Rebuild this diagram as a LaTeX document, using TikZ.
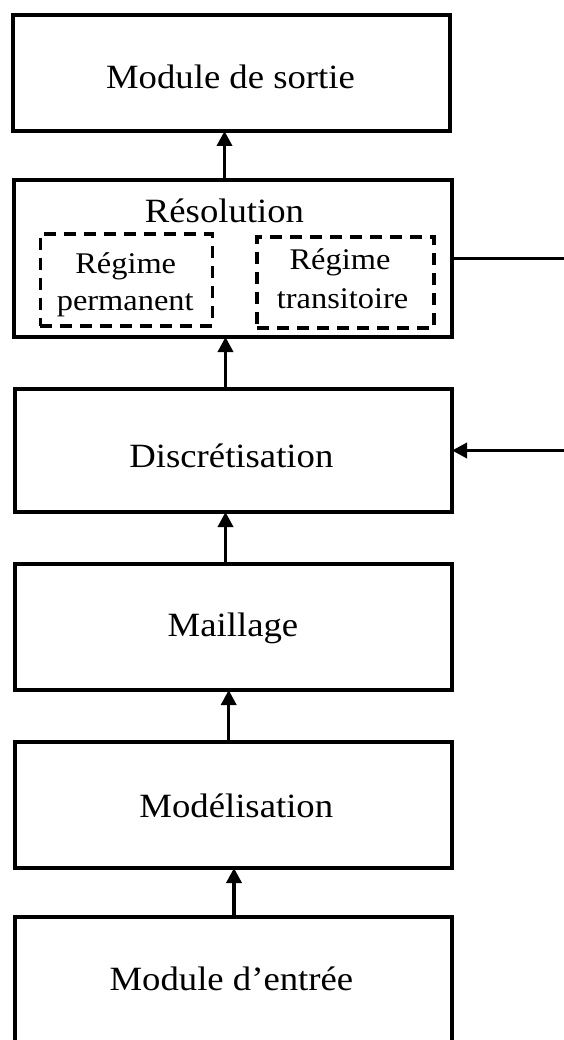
\documentclass[tikz,border=0pt]{standalone}
\usepackage{fontspec}
\setmainfont[FakeStretch=1.08]{Liberation Serif}
\usetikzlibrary{arrows.meta}
\begin{document}
\begin{tikzpicture}[x=1pt,y=-1pt,
  box/.style={draw=black, line width=3.4pt, inner sep=0pt, outer sep=0pt, fill=white},
  dbox/.style={draw=black, line width=3.2pt, dash pattern=on 12pt off 8pt, inner sep=0pt, outer sep=0pt},
  big/.style={anchor=base, inner sep=0pt, font=\fontsize{34}{40}\selectfont},
  small/.style={anchor=base, inner sep=0pt, font=\fontsize{30}{36}\selectfont},
  arr/.style={line width=3.5pt, -{Triangle[length=15pt,width=15pt]}},
  ln/.style={line width=3.4pt}]
\path[use as bounding box] (0,0) rectangle (564,1040);
\clip (0,0) rectangle (564,1040);
% boxes
\node[box, minimum width=437pt, minimum height=116pt] (sortie) at (231.5,73) {};
\node[box, minimum width=438pt, minimum height=157pt] (res) at (233,258.5) {};
\node[box, minimum width=437pt, minimum height=123pt] (disc) at (233.5,450.5) {};
\node[box, minimum width=437pt, minimum height=126pt] (mail) at (233.5,627) {};
\node[box, minimum width=437pt, minimum height=126pt] (model) at (233.5,805) {};
\node[box, minimum width=437pt, minimum height=143pt] (entree) at (233.5,988.5) {};
\node[dbox, minimum width=172pt, minimum height=92pt] (perm) at (126.3,280) {};
\node[dbox, minimum width=177pt, minimum height=91pt] (trans) at (345.5,282.5) {};
% texts
\node[big] (tsortie) at (230.5,89) {Module de sortie};
\node[big] (tres) at (224.5,223) {Résolution};
\node[small] (tperm1) at (125.7,274) {Régime};
\node[small] (tperm2) at (125.2,310) {permanent};
\node[small] (ttrans1) at (340,270) {Régime};
\node[small] (ttrans2) at (342.6,308) {transitoire};
\node[big] (tdisc) at (231.4,467) {Discrétisation};
\node[big] (tmail) at (233,636) {Maillage};
\node[big] (tmodel) at (236.3,817) {Modélisation};
\node[big] (tentree) at (231.4,990) {Module d’entrée};
% helper coordinates
\coordinate (xa) at (224.5,0);
\coordinate (xb) at (225.5,0);
\coordinate (xc) at (228.7,0);
\coordinate (xd) at (234,0);
\coordinate (outres) at (566,258.5);
\coordinate (indisc) at (566,450.5);
% connectors
\draw[arr] (res.north -| xa) -- (sortie.south -| xa);
\draw[arr] (disc.north -| xb) -- (res.south -| xb);
\draw[arr] (mail.north -| xb) -- (disc.south -| xb);
\draw[arr] (model.north -| xc) -- (mail.south -| xc);
\draw[arr] (entree.north -| xd) -- (model.south -| xd);
\draw[ln] (res.east) -- (outres);
\draw[arr] (indisc) -- (disc.east);
\end{tikzpicture}
\end{document}
